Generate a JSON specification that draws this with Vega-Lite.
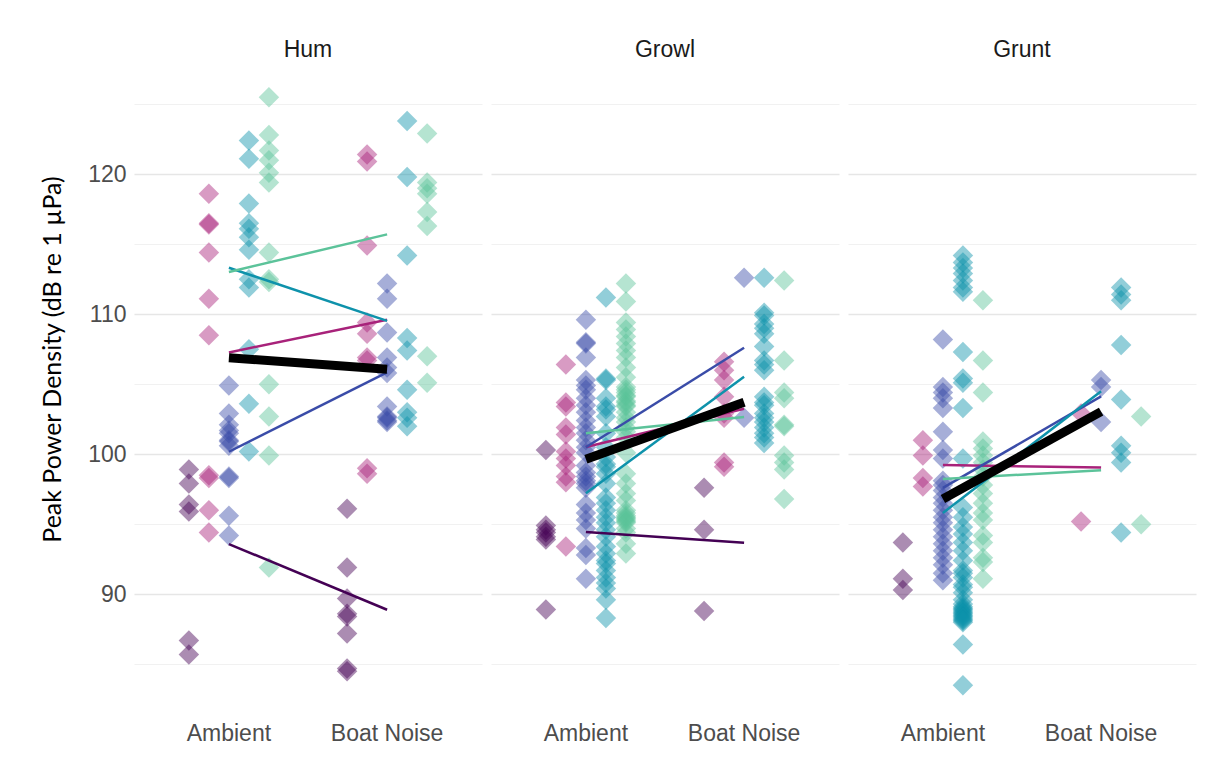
{
  "$schema": "https://vega.github.io/schema/vega-lite/v6.json",
  "padding": {"left": 40, "top": 39, "right": 5, "bottom": 5},
  "background": "white",
  "datasets": {
    "pts": [
      {"call":"Hum","cond":"Ambient","fish":"A","pw":98.9},{"call":"Hum","cond":"Ambient","fish":"A","pw":97.9},{"call":"Hum","cond":"Ambient","fish":"A","pw":96.4},{"call":"Hum","cond":"Ambient","fish":"A","pw":95.9},{"call":"Hum","cond":"Ambient","fish":"A","pw":86.7},{"call":"Hum","cond":"Ambient","fish":"A","pw":85.7},
      {"call":"Hum","cond":"Ambient","fish":"B","pw":118.6},{"call":"Hum","cond":"Ambient","fish":"B","pw":116.5},{"call":"Hum","cond":"Ambient","fish":"B","pw":116.4},{"call":"Hum","cond":"Ambient","fish":"B","pw":114.4},{"call":"Hum","cond":"Ambient","fish":"B","pw":111.1},{"call":"Hum","cond":"Ambient","fish":"B","pw":108.5},{"call":"Hum","cond":"Ambient","fish":"B","pw":98.5},{"call":"Hum","cond":"Ambient","fish":"B","pw":98.3},{"call":"Hum","cond":"Ambient","fish":"B","pw":96.0},{"call":"Hum","cond":"Ambient","fish":"B","pw":94.4},
      {"call":"Hum","cond":"Ambient","fish":"C","pw":104.9},{"call":"Hum","cond":"Ambient","fish":"C","pw":102.9},{"call":"Hum","cond":"Ambient","fish":"C","pw":102.1},{"call":"Hum","cond":"Ambient","fish":"C","pw":101.7},{"call":"Hum","cond":"Ambient","fish":"C","pw":101.5},{"call":"Hum","cond":"Ambient","fish":"C","pw":101.0},{"call":"Hum","cond":"Ambient","fish":"C","pw":100.9},{"call":"Hum","cond":"Ambient","fish":"C","pw":100.6},{"call":"Hum","cond":"Ambient","fish":"C","pw":98.4},{"call":"Hum","cond":"Ambient","fish":"C","pw":98.3},{"call":"Hum","cond":"Ambient","fish":"C","pw":95.6},{"call":"Hum","cond":"Ambient","fish":"C","pw":94.2},
      {"call":"Hum","cond":"Ambient","fish":"D","pw":122.4},{"call":"Hum","cond":"Ambient","fish":"D","pw":121.1},{"call":"Hum","cond":"Ambient","fish":"D","pw":117.9},{"call":"Hum","cond":"Ambient","fish":"D","pw":116.5},{"call":"Hum","cond":"Ambient","fish":"D","pw":116.1},{"call":"Hum","cond":"Ambient","fish":"D","pw":115.5},{"call":"Hum","cond":"Ambient","fish":"D","pw":114.6},{"call":"Hum","cond":"Ambient","fish":"D","pw":112.5},{"call":"Hum","cond":"Ambient","fish":"D","pw":111.9},{"call":"Hum","cond":"Ambient","fish":"D","pw":107.5},{"call":"Hum","cond":"Ambient","fish":"D","pw":103.6},{"call":"Hum","cond":"Ambient","fish":"D","pw":100.2},
      {"call":"Hum","cond":"Ambient","fish":"E","pw":125.5},{"call":"Hum","cond":"Ambient","fish":"E","pw":122.8},{"call":"Hum","cond":"Ambient","fish":"E","pw":121.7},{"call":"Hum","cond":"Ambient","fish":"E","pw":121.0},{"call":"Hum","cond":"Ambient","fish":"E","pw":120.1},{"call":"Hum","cond":"Ambient","fish":"E","pw":119.4},{"call":"Hum","cond":"Ambient","fish":"E","pw":114.4},{"call":"Hum","cond":"Ambient","fish":"E","pw":112.5},{"call":"Hum","cond":"Ambient","fish":"E","pw":112.3},{"call":"Hum","cond":"Ambient","fish":"E","pw":105.0},{"call":"Hum","cond":"Ambient","fish":"E","pw":102.7},{"call":"Hum","cond":"Ambient","fish":"E","pw":99.9},{"call":"Hum","cond":"Ambient","fish":"E","pw":91.9},
      {"call":"Hum","cond":"Boat Noise","fish":"A","pw":96.1},{"call":"Hum","cond":"Boat Noise","fish":"A","pw":91.9},{"call":"Hum","cond":"Boat Noise","fish":"A","pw":89.7},{"call":"Hum","cond":"Boat Noise","fish":"A","pw":88.6},{"call":"Hum","cond":"Boat Noise","fish":"A","pw":88.4},{"call":"Hum","cond":"Boat Noise","fish":"A","pw":87.2},{"call":"Hum","cond":"Boat Noise","fish":"A","pw":84.7},{"call":"Hum","cond":"Boat Noise","fish":"A","pw":84.5},
      {"call":"Hum","cond":"Boat Noise","fish":"B","pw":121.4},{"call":"Hum","cond":"Boat Noise","fish":"B","pw":120.9},{"call":"Hum","cond":"Boat Noise","fish":"B","pw":114.9},{"call":"Hum","cond":"Boat Noise","fish":"B","pw":109.4},{"call":"Hum","cond":"Boat Noise","fish":"B","pw":108.6},{"call":"Hum","cond":"Boat Noise","fish":"B","pw":106.9},{"call":"Hum","cond":"Boat Noise","fish":"B","pw":106.7},{"call":"Hum","cond":"Boat Noise","fish":"B","pw":99.0},{"call":"Hum","cond":"Boat Noise","fish":"B","pw":98.6},
      {"call":"Hum","cond":"Boat Noise","fish":"C","pw":112.2},{"call":"Hum","cond":"Boat Noise","fish":"C","pw":111.1},{"call":"Hum","cond":"Boat Noise","fish":"C","pw":108.7},{"call":"Hum","cond":"Boat Noise","fish":"C","pw":106.9},{"call":"Hum","cond":"Boat Noise","fish":"C","pw":106.2},{"call":"Hum","cond":"Boat Noise","fish":"C","pw":105.8},{"call":"Hum","cond":"Boat Noise","fish":"C","pw":103.4},{"call":"Hum","cond":"Boat Noise","fish":"C","pw":102.7},{"call":"Hum","cond":"Boat Noise","fish":"C","pw":102.6},{"call":"Hum","cond":"Boat Noise","fish":"C","pw":102.4},{"call":"Hum","cond":"Boat Noise","fish":"C","pw":102.3},
      {"call":"Hum","cond":"Boat Noise","fish":"D","pw":123.8},{"call":"Hum","cond":"Boat Noise","fish":"D","pw":119.8},{"call":"Hum","cond":"Boat Noise","fish":"D","pw":114.2},{"call":"Hum","cond":"Boat Noise","fish":"D","pw":108.3},{"call":"Hum","cond":"Boat Noise","fish":"D","pw":107.4},{"call":"Hum","cond":"Boat Noise","fish":"D","pw":104.6},{"call":"Hum","cond":"Boat Noise","fish":"D","pw":103.0},{"call":"Hum","cond":"Boat Noise","fish":"D","pw":102.6},{"call":"Hum","cond":"Boat Noise","fish":"D","pw":102.0},
      {"call":"Hum","cond":"Boat Noise","fish":"E","pw":122.9},{"call":"Hum","cond":"Boat Noise","fish":"E","pw":119.4},{"call":"Hum","cond":"Boat Noise","fish":"E","pw":119.0},{"call":"Hum","cond":"Boat Noise","fish":"E","pw":118.6},{"call":"Hum","cond":"Boat Noise","fish":"E","pw":117.3},{"call":"Hum","cond":"Boat Noise","fish":"E","pw":116.3},{"call":"Hum","cond":"Boat Noise","fish":"E","pw":107.0},{"call":"Hum","cond":"Boat Noise","fish":"E","pw":105.1},

      {"call":"Growl","cond":"Ambient","fish":"A","pw":100.3},{"call":"Growl","cond":"Ambient","fish":"A","pw":94.9},{"call":"Growl","cond":"Ambient","fish":"A","pw":94.6},{"call":"Growl","cond":"Ambient","fish":"A","pw":94.4},{"call":"Growl","cond":"Ambient","fish":"A","pw":94.1},{"call":"Growl","cond":"Ambient","fish":"A","pw":93.9},{"call":"Growl","cond":"Ambient","fish":"A","pw":88.9},
      {"call":"Growl","cond":"Ambient","fish":"B","pw":106.4},{"call":"Growl","cond":"Ambient","fish":"B","pw":103.7},{"call":"Growl","cond":"Ambient","fish":"B","pw":103.4},{"call":"Growl","cond":"Ambient","fish":"B","pw":101.9},{"call":"Growl","cond":"Ambient","fish":"B","pw":101.4},{"call":"Growl","cond":"Ambient","fish":"B","pw":100.2},{"call":"Growl","cond":"Ambient","fish":"B","pw":99.7},{"call":"Growl","cond":"Ambient","fish":"B","pw":99.2},{"call":"Growl","cond":"Ambient","fish":"B","pw":98.4},{"call":"Growl","cond":"Ambient","fish":"B","pw":98.0},{"call":"Growl","cond":"Ambient","fish":"B","pw":93.4},
      {"call":"Growl","cond":"Ambient","fish":"C","pw":109.6},{"call":"Growl","cond":"Ambient","fish":"C","pw":108.0},{"call":"Growl","cond":"Ambient","fish":"C","pw":107.9},{"call":"Growl","cond":"Ambient","fish":"C","pw":106.9},{"call":"Growl","cond":"Ambient","fish":"C","pw":105.3},{"call":"Growl","cond":"Ambient","fish":"C","pw":104.9},{"call":"Growl","cond":"Ambient","fish":"C","pw":104.6},{"call":"Growl","cond":"Ambient","fish":"C","pw":104.0},{"call":"Growl","cond":"Ambient","fish":"C","pw":103.5},{"call":"Growl","cond":"Ambient","fish":"C","pw":103.0},{"call":"Growl","cond":"Ambient","fish":"C","pw":102.4},{"call":"Growl","cond":"Ambient","fish":"C","pw":101.9},{"call":"Growl","cond":"Ambient","fish":"C","pw":101.5},{"call":"Growl","cond":"Ambient","fish":"C","pw":101.0},{"call":"Growl","cond":"Ambient","fish":"C","pw":100.5},{"call":"Growl","cond":"Ambient","fish":"C","pw":100.1},{"call":"Growl","cond":"Ambient","fish":"C","pw":99.2},{"call":"Growl","cond":"Ambient","fish":"C","pw":98.7},{"call":"Growl","cond":"Ambient","fish":"C","pw":98.4},{"call":"Growl","cond":"Ambient","fish":"C","pw":98.1},{"call":"Growl","cond":"Ambient","fish":"C","pw":97.9},{"call":"Growl","cond":"Ambient","fish":"C","pw":97.6},{"call":"Growl","cond":"Ambient","fish":"C","pw":96.4},{"call":"Growl","cond":"Ambient","fish":"C","pw":95.8},{"call":"Growl","cond":"Ambient","fish":"C","pw":95.3},{"call":"Growl","cond":"Ambient","fish":"C","pw":94.7},{"call":"Growl","cond":"Ambient","fish":"C","pw":93.3},{"call":"Growl","cond":"Ambient","fish":"C","pw":92.8},{"call":"Growl","cond":"Ambient","fish":"C","pw":91.1},
      {"call":"Growl","cond":"Ambient","fish":"D","pw":111.2},{"call":"Growl","cond":"Ambient","fish":"D","pw":105.4},{"call":"Growl","cond":"Ambient","fish":"D","pw":105.3},{"call":"Growl","cond":"Ambient","fish":"D","pw":104.0},{"call":"Growl","cond":"Ambient","fish":"D","pw":103.4},{"call":"Growl","cond":"Ambient","fish":"D","pw":103.2},{"call":"Growl","cond":"Ambient","fish":"D","pw":102.7},{"call":"Growl","cond":"Ambient","fish":"D","pw":101.5},{"call":"Growl","cond":"Ambient","fish":"D","pw":100.5},{"call":"Growl","cond":"Ambient","fish":"D","pw":99.8},{"call":"Growl","cond":"Ambient","fish":"D","pw":99.3},{"call":"Growl","cond":"Ambient","fish":"D","pw":99.1},{"call":"Growl","cond":"Ambient","fish":"D","pw":98.6},{"call":"Growl","cond":"Ambient","fish":"D","pw":97.9},{"call":"Growl","cond":"Ambient","fish":"D","pw":96.9},{"call":"Growl","cond":"Ambient","fish":"D","pw":96.5},{"call":"Growl","cond":"Ambient","fish":"D","pw":96.0},{"call":"Growl","cond":"Ambient","fish":"D","pw":95.5},{"call":"Growl","cond":"Ambient","fish":"D","pw":95.1},{"call":"Growl","cond":"Ambient","fish":"D","pw":94.6},{"call":"Growl","cond":"Ambient","fish":"D","pw":94.1},{"call":"Growl","cond":"Ambient","fish":"D","pw":93.4},{"call":"Growl","cond":"Ambient","fish":"D","pw":92.9},{"call":"Growl","cond":"Ambient","fish":"D","pw":92.4},{"call":"Growl","cond":"Ambient","fish":"D","pw":92.2},{"call":"Growl","cond":"Ambient","fish":"D","pw":91.7},{"call":"Growl","cond":"Ambient","fish":"D","pw":91.2},{"call":"Growl","cond":"Ambient","fish":"D","pw":90.8},{"call":"Growl","cond":"Ambient","fish":"D","pw":90.4},{"call":"Growl","cond":"Ambient","fish":"D","pw":89.6},{"call":"Growl","cond":"Ambient","fish":"D","pw":88.3},
      {"call":"Growl","cond":"Ambient","fish":"E","pw":112.2},{"call":"Growl","cond":"Ambient","fish":"E","pw":110.9},{"call":"Growl","cond":"Ambient","fish":"E","pw":109.4},{"call":"Growl","cond":"Ambient","fish":"E","pw":108.9},{"call":"Growl","cond":"Ambient","fish":"E","pw":108.4},{"call":"Growl","cond":"Ambient","fish":"E","pw":107.9},{"call":"Growl","cond":"Ambient","fish":"E","pw":107.4},{"call":"Growl","cond":"Ambient","fish":"E","pw":106.9},{"call":"Growl","cond":"Ambient","fish":"E","pw":106.2},{"call":"Growl","cond":"Ambient","fish":"E","pw":105.5},{"call":"Growl","cond":"Ambient","fish":"E","pw":104.8},{"call":"Growl","cond":"Ambient","fish":"E","pw":104.6},{"call":"Growl","cond":"Ambient","fish":"E","pw":104.4},{"call":"Growl","cond":"Ambient","fish":"E","pw":104.2},{"call":"Growl","cond":"Ambient","fish":"E","pw":104.1},{"call":"Growl","cond":"Ambient","fish":"E","pw":103.8},{"call":"Growl","cond":"Ambient","fish":"E","pw":103.7},{"call":"Growl","cond":"Ambient","fish":"E","pw":103.5},{"call":"Growl","cond":"Ambient","fish":"E","pw":103.4},{"call":"Growl","cond":"Ambient","fish":"E","pw":103.0},{"call":"Growl","cond":"Ambient","fish":"E","pw":102.6},{"call":"Growl","cond":"Ambient","fish":"E","pw":102.3},{"call":"Growl","cond":"Ambient","fish":"E","pw":101.9},{"call":"Growl","cond":"Ambient","fish":"E","pw":101.6},{"call":"Growl","cond":"Ambient","fish":"E","pw":101.2},{"call":"Growl","cond":"Ambient","fish":"E","pw":100.1},{"call":"Growl","cond":"Ambient","fish":"E","pw":98.6},{"call":"Growl","cond":"Ambient","fish":"E","pw":97.9},{"call":"Growl","cond":"Ambient","fish":"E","pw":97.2},{"call":"Growl","cond":"Ambient","fish":"E","pw":96.7},{"call":"Growl","cond":"Ambient","fish":"E","pw":96.0},{"call":"Growl","cond":"Ambient","fish":"E","pw":95.8},{"call":"Growl","cond":"Ambient","fish":"E","pw":95.6},{"call":"Growl","cond":"Ambient","fish":"E","pw":95.5},{"call":"Growl","cond":"Ambient","fish":"E","pw":95.4},{"call":"Growl","cond":"Ambient","fish":"E","pw":95.3},{"call":"Growl","cond":"Ambient","fish":"E","pw":95.2},{"call":"Growl","cond":"Ambient","fish":"E","pw":95.1},{"call":"Growl","cond":"Ambient","fish":"E","pw":94.7},{"call":"Growl","cond":"Ambient","fish":"E","pw":94.4},{"call":"Growl","cond":"Ambient","fish":"E","pw":93.6},{"call":"Growl","cond":"Ambient","fish":"E","pw":92.9},
      {"call":"Growl","cond":"Boat Noise","fish":"A","pw":97.6},{"call":"Growl","cond":"Boat Noise","fish":"A","pw":94.6},{"call":"Growl","cond":"Boat Noise","fish":"A","pw":88.8},
      {"call":"Growl","cond":"Boat Noise","fish":"B","pw":106.6},{"call":"Growl","cond":"Boat Noise","fish":"B","pw":106.0},{"call":"Growl","cond":"Boat Noise","fish":"B","pw":105.3},{"call":"Growl","cond":"Boat Noise","fish":"B","pw":104.1},{"call":"Growl","cond":"Boat Noise","fish":"B","pw":102.9},{"call":"Growl","cond":"Boat Noise","fish":"B","pw":102.6},{"call":"Growl","cond":"Boat Noise","fish":"B","pw":99.4},{"call":"Growl","cond":"Boat Noise","fish":"B","pw":99.1},
      {"call":"Growl","cond":"Boat Noise","fish":"C","pw":112.6},{"call":"Growl","cond":"Boat Noise","fish":"C","pw":102.6},
      {"call":"Growl","cond":"Boat Noise","fish":"D","pw":112.6},{"call":"Growl","cond":"Boat Noise","fish":"D","pw":110.1},{"call":"Growl","cond":"Boat Noise","fish":"D","pw":109.9},{"call":"Growl","cond":"Boat Noise","fish":"D","pw":109.3},{"call":"Growl","cond":"Boat Noise","fish":"D","pw":109.0},{"call":"Growl","cond":"Boat Noise","fish":"D","pw":108.6},{"call":"Growl","cond":"Boat Noise","fish":"D","pw":107.7},{"call":"Growl","cond":"Boat Noise","fish":"D","pw":106.7},{"call":"Growl","cond":"Boat Noise","fish":"D","pw":106.4},{"call":"Growl","cond":"Boat Noise","fish":"D","pw":106.0},{"call":"Growl","cond":"Boat Noise","fish":"D","pw":104.1},{"call":"Growl","cond":"Boat Noise","fish":"D","pw":103.7},{"call":"Growl","cond":"Boat Noise","fish":"D","pw":103.5},{"call":"Growl","cond":"Boat Noise","fish":"D","pw":102.9},{"call":"Growl","cond":"Boat Noise","fish":"D","pw":102.6},{"call":"Growl","cond":"Boat Noise","fish":"D","pw":102.3},{"call":"Growl","cond":"Boat Noise","fish":"D","pw":101.9},{"call":"Growl","cond":"Boat Noise","fish":"D","pw":101.5},{"call":"Growl","cond":"Boat Noise","fish":"D","pw":101.2},{"call":"Growl","cond":"Boat Noise","fish":"D","pw":100.8},
      {"call":"Growl","cond":"Boat Noise","fish":"E","pw":112.4},{"call":"Growl","cond":"Boat Noise","fish":"E","pw":106.7},{"call":"Growl","cond":"Boat Noise","fish":"E","pw":104.4},{"call":"Growl","cond":"Boat Noise","fish":"E","pw":104.0},{"call":"Growl","cond":"Boat Noise","fish":"E","pw":102.1},{"call":"Growl","cond":"Boat Noise","fish":"E","pw":102.0},{"call":"Growl","cond":"Boat Noise","fish":"E","pw":99.9},{"call":"Growl","cond":"Boat Noise","fish":"E","pw":99.4},{"call":"Growl","cond":"Boat Noise","fish":"E","pw":98.9},{"call":"Growl","cond":"Boat Noise","fish":"E","pw":96.8},

      {"call":"Grunt","cond":"Ambient","fish":"A","pw":93.7},{"call":"Grunt","cond":"Ambient","fish":"A","pw":91.1},{"call":"Grunt","cond":"Ambient","fish":"A","pw":90.3},
      {"call":"Grunt","cond":"Ambient","fish":"B","pw":101.0},{"call":"Grunt","cond":"Ambient","fish":"B","pw":99.9},{"call":"Grunt","cond":"Ambient","fish":"B","pw":98.3},{"call":"Grunt","cond":"Ambient","fish":"B","pw":97.7},
      {"call":"Grunt","cond":"Ambient","fish":"C","pw":108.2},{"call":"Grunt","cond":"Ambient","fish":"C","pw":104.8},{"call":"Grunt","cond":"Ambient","fish":"C","pw":104.4},{"call":"Grunt","cond":"Ambient","fish":"C","pw":104.0},{"call":"Grunt","cond":"Ambient","fish":"C","pw":103.3},{"call":"Grunt","cond":"Ambient","fish":"C","pw":101.6},{"call":"Grunt","cond":"Ambient","fish":"C","pw":100.3},{"call":"Grunt","cond":"Ambient","fish":"C","pw":99.7},{"call":"Grunt","cond":"Ambient","fish":"C","pw":98.1},{"call":"Grunt","cond":"Ambient","fish":"C","pw":97.8},{"call":"Grunt","cond":"Ambient","fish":"C","pw":97.4},{"call":"Grunt","cond":"Ambient","fish":"C","pw":96.9},{"call":"Grunt","cond":"Ambient","fish":"C","pw":96.5},{"call":"Grunt","cond":"Ambient","fish":"C","pw":96.0},{"call":"Grunt","cond":"Ambient","fish":"C","pw":95.5},{"call":"Grunt","cond":"Ambient","fish":"C","pw":95.1},{"call":"Grunt","cond":"Ambient","fish":"C","pw":94.6},{"call":"Grunt","cond":"Ambient","fish":"C","pw":94.1},{"call":"Grunt","cond":"Ambient","fish":"C","pw":93.6},{"call":"Grunt","cond":"Ambient","fish":"C","pw":93.1},{"call":"Grunt","cond":"Ambient","fish":"C","pw":92.6},{"call":"Grunt","cond":"Ambient","fish":"C","pw":92.1},{"call":"Grunt","cond":"Ambient","fish":"C","pw":91.5},{"call":"Grunt","cond":"Ambient","fish":"C","pw":91.0},
      {"call":"Grunt","cond":"Ambient","fish":"D","pw":114.2},{"call":"Grunt","cond":"Ambient","fish":"D","pw":113.7},{"call":"Grunt","cond":"Ambient","fish":"D","pw":113.3},{"call":"Grunt","cond":"Ambient","fish":"D","pw":112.9},{"call":"Grunt","cond":"Ambient","fish":"D","pw":112.4},{"call":"Grunt","cond":"Ambient","fish":"D","pw":111.9},{"call":"Grunt","cond":"Ambient","fish":"D","pw":111.6},{"call":"Grunt","cond":"Ambient","fish":"D","pw":107.3},{"call":"Grunt","cond":"Ambient","fish":"D","pw":105.4},{"call":"Grunt","cond":"Ambient","fish":"D","pw":105.1},{"call":"Grunt","cond":"Ambient","fish":"D","pw":103.3},{"call":"Grunt","cond":"Ambient","fish":"D","pw":99.7},{"call":"Grunt","cond":"Ambient","fish":"D","pw":96.2},{"call":"Grunt","cond":"Ambient","fish":"D","pw":95.5},{"call":"Grunt","cond":"Ambient","fish":"D","pw":94.8},{"call":"Grunt","cond":"Ambient","fish":"D","pw":94.3},{"call":"Grunt","cond":"Ambient","fish":"D","pw":93.7},{"call":"Grunt","cond":"Ambient","fish":"D","pw":93.1},{"call":"Grunt","cond":"Ambient","fish":"D","pw":92.4},{"call":"Grunt","cond":"Ambient","fish":"D","pw":91.7},{"call":"Grunt","cond":"Ambient","fish":"D","pw":91.5},{"call":"Grunt","cond":"Ambient","fish":"D","pw":91.2},{"call":"Grunt","cond":"Ambient","fish":"D","pw":90.7},{"call":"Grunt","cond":"Ambient","fish":"D","pw":90.5},{"call":"Grunt","cond":"Ambient","fish":"D","pw":90.1},{"call":"Grunt","cond":"Ambient","fish":"D","pw":89.6},{"call":"Grunt","cond":"Ambient","fish":"D","pw":89.3},{"call":"Grunt","cond":"Ambient","fish":"D","pw":89.1},{"call":"Grunt","cond":"Ambient","fish":"D","pw":89.0},{"call":"Grunt","cond":"Ambient","fish":"D","pw":88.9},{"call":"Grunt","cond":"Ambient","fish":"D","pw":88.8},{"call":"Grunt","cond":"Ambient","fish":"D","pw":88.7},{"call":"Grunt","cond":"Ambient","fish":"D","pw":88.6},{"call":"Grunt","cond":"Ambient","fish":"D","pw":88.5},{"call":"Grunt","cond":"Ambient","fish":"D","pw":88.4},{"call":"Grunt","cond":"Ambient","fish":"D","pw":88.3},{"call":"Grunt","cond":"Ambient","fish":"D","pw":88.2},{"call":"Grunt","cond":"Ambient","fish":"D","pw":88.1},{"call":"Grunt","cond":"Ambient","fish":"D","pw":88.0},{"call":"Grunt","cond":"Ambient","fish":"D","pw":86.4},{"call":"Grunt","cond":"Ambient","fish":"D","pw":83.5},
      {"call":"Grunt","cond":"Ambient","fish":"E","pw":111.0},{"call":"Grunt","cond":"Ambient","fish":"E","pw":106.7},{"call":"Grunt","cond":"Ambient","fish":"E","pw":104.4},{"call":"Grunt","cond":"Ambient","fish":"E","pw":100.9},{"call":"Grunt","cond":"Ambient","fish":"E","pw":100.4},{"call":"Grunt","cond":"Ambient","fish":"E","pw":99.9},{"call":"Grunt","cond":"Ambient","fish":"E","pw":99.4},{"call":"Grunt","cond":"Ambient","fish":"E","pw":98.9},{"call":"Grunt","cond":"Ambient","fish":"E","pw":98.4},{"call":"Grunt","cond":"Ambient","fish":"E","pw":97.8},{"call":"Grunt","cond":"Ambient","fish":"E","pw":97.2},{"call":"Grunt","cond":"Ambient","fish":"E","pw":96.5},{"call":"Grunt","cond":"Ambient","fish":"E","pw":95.8},{"call":"Grunt","cond":"Ambient","fish":"E","pw":95.3},{"call":"Grunt","cond":"Ambient","fish":"E","pw":94.2},{"call":"Grunt","cond":"Ambient","fish":"E","pw":93.7},{"call":"Grunt","cond":"Ambient","fish":"E","pw":92.6},{"call":"Grunt","cond":"Ambient","fish":"E","pw":92.3},{"call":"Grunt","cond":"Ambient","fish":"E","pw":91.1},
      {"call":"Grunt","cond":"Boat Noise","fish":"B","pw":102.9},{"call":"Grunt","cond":"Boat Noise","fish":"B","pw":95.2},
      {"call":"Grunt","cond":"Boat Noise","fish":"C","pw":105.3},{"call":"Grunt","cond":"Boat Noise","fish":"C","pw":104.8},{"call":"Grunt","cond":"Boat Noise","fish":"C","pw":102.3},
      {"call":"Grunt","cond":"Boat Noise","fish":"D","pw":111.9},{"call":"Grunt","cond":"Boat Noise","fish":"D","pw":111.4},{"call":"Grunt","cond":"Boat Noise","fish":"D","pw":111.0},{"call":"Grunt","cond":"Boat Noise","fish":"D","pw":107.8},{"call":"Grunt","cond":"Boat Noise","fish":"D","pw":103.9},{"call":"Grunt","cond":"Boat Noise","fish":"D","pw":100.6},{"call":"Grunt","cond":"Boat Noise","fish":"D","pw":100.1},{"call":"Grunt","cond":"Boat Noise","fish":"D","pw":99.4},{"call":"Grunt","cond":"Boat Noise","fish":"D","pw":94.4},
      {"call":"Grunt","cond":"Boat Noise","fish":"E","pw":102.7},{"call":"Grunt","cond":"Boat Noise","fish":"E","pw":95.0}
    ]
  },
  "data": {"name": "pts"},
  "facet": {
    "column": {
      "field": "call",
      "type": "nominal",
      "sort": ["Hum", "Growl", "Grunt"],
      "header": {
        "title": null,
        "labelFont": "Liberation Sans",
        "labelFontSize": 23,
        "labelColor": "#1a1a1a",
        "labelPadding": 3
      }
    }
  },
  "spacing": 9,
  "spec": {
    "width": 348,
    "height": 651,
    "encoding": {
      "x": {
        "field": "cond",
        "type": "nominal",
        "sort": ["Ambient", "Boat Noise"],
        "scale": {"paddingInner": 0.494, "paddingOuter": 0.347},
        "axis": {
          "title": null,
          "labelAngle": 0,
          "ticks": false,
          "domain": false,
          "grid": false,
          "labelPadding": 6
        }
      },
      "y": {
        "field": "pw",
        "type": "quantitative",
        "scale": {"domain": [81.3, 127.8], "nice": false, "zero": false},
        "axis": {
          "title": "Peak Power Density (dB re 1 µPa)",
          "values": [85, 90, 95, 100, 105, 110, 115, 120, 125],
          "labelExpr": "datum.value % 10 === 0 ? datum.label : ''",
          "ticks": false,
          "domain": false,
          "labelPadding": 8,
          "titlePadding": 22,
          "titleY": 294,
          "gridColor": {"condition": {"test": "datum.value % 10 === 0", "value": "#e6e6e6"}, "value": "#f1f1f1"},
          "gridWidth": {"condition": {"test": "datum.value % 10 === 0", "value": 1.6}, "value": 1.0}
        }
      }
    },
    "layer": [
      {
        "mark": {"type": "point", "shape": "diamond", "filled": true, "size": 420, "opacity": 0.45, "strokeWidth": 0},
        "encoding": {
          "xOffset": {"field": "fish", "type": "nominal", "scale": {"domain": ["A", "B", "C", "D", "E"], "paddingInner": 0, "paddingOuter": 0}},
          "color": {"field": "fish", "type": "nominal", "scale": {"domain": ["A", "B", "C", "D", "E"], "range": ["#440154", "#a8227a", "#3a4ca8", "#0e92ab", "#5cc39a"]}, "legend": null}
        }
      },
      {
        "mark": {"type": "line", "strokeWidth": 2.5},
        "encoding": {
          "y": {"aggregate": "mean", "field": "pw", "type": "quantitative"},
          "color": {"field": "fish", "type": "nominal", "legend": null}
        }
      },
      {
        "mark": {"type": "line", "strokeWidth": 9, "color": "black"},
        "encoding": {
          "y": {"aggregate": "mean", "field": "pw", "type": "quantitative"}
        }
      }
    ]
  },
  "config": {
    "view": {"stroke": null},
    "axis": {
      "labelFont": "Liberation Sans",
      "labelFontSize": 23,
      "labelColor": "#4d4d4d",
      "titleFont": "Lato",
      "titleFontSize": 25,
      "titleFontWeight": "normal",
      "titleColor": "#000000"
    }
  }
}
